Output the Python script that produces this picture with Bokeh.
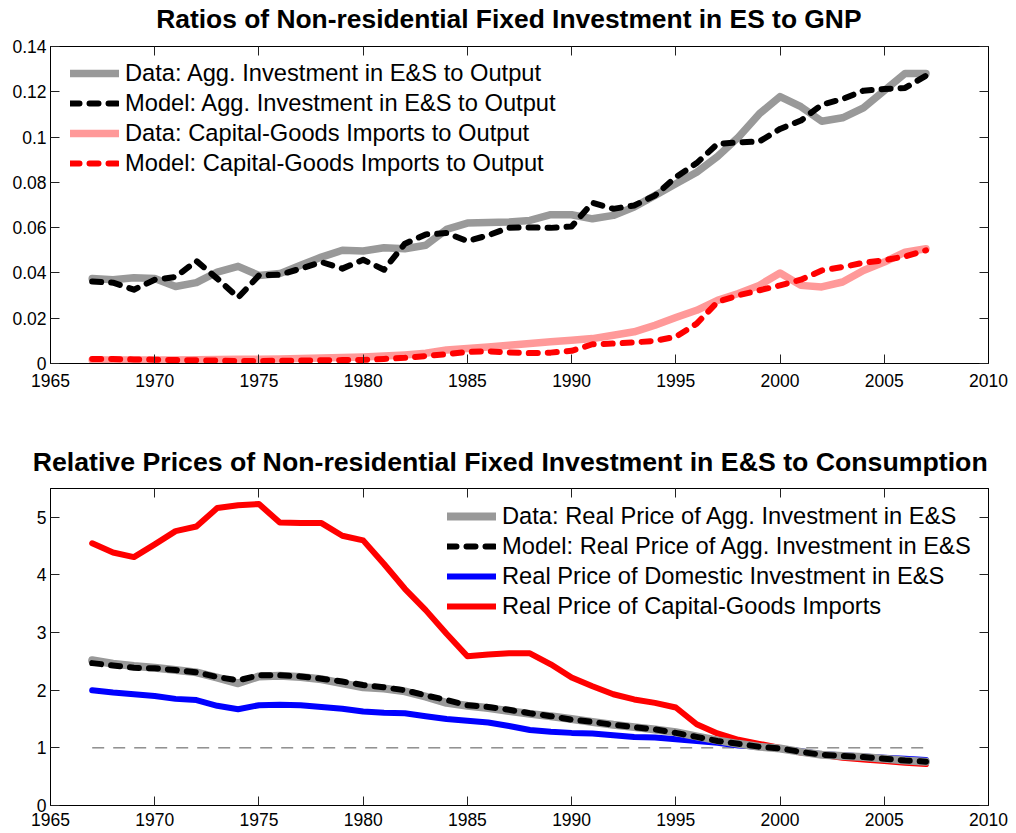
from bokeh.plotting import figure
from bokeh.models import (Range1d, FixedTicker, LinearAxis, Legend, LegendItem,
                          Title, CustomJSTickFormatter)
from bokeh.layouts import column
from bokeh.embed import file_html
from bokeh.resources import INLINE

# ---------------- data ----------------
years = [1967, 1968, 1969, 1970, 1971, 1972, 1973, 1974, 1975, 1976,
         1977, 1978, 1979, 1980, 1981, 1982, 1983, 1984, 1985, 1986,
         1987, 1988, 1989, 1990, 1991, 1992, 1993, 1994, 1995, 1996,
         1997, 1998, 1999, 2000, 2001, 2002, 2003, 2004, 2005, 2006, 2007]

# Top panel: ratios to output
agg_inv_data = [0.0375, 0.0370, 0.0379, 0.0375, 0.0340, 0.0357, 0.0404, 0.0429, 0.0389, 0.0397,
                0.0434, 0.0470, 0.0500, 0.0497, 0.0511, 0.0507, 0.0522, 0.0592, 0.0620, 0.0623,
                0.0625, 0.0632, 0.0657, 0.0657, 0.0639, 0.0654, 0.0691, 0.0742, 0.0794, 0.0845,
                0.0914, 0.0999, 0.1102, 0.1179, 0.1134, 0.1070, 0.1085, 0.1129, 0.1205, 0.1281, 0.1281]
agg_inv_model = [0.0362, 0.0357, 0.0326, 0.0370, 0.0382, 0.0453, 0.0375, 0.0291, 0.0389, 0.0392,
                 0.0419, 0.0448, 0.0419, 0.0458, 0.0414, 0.0529, 0.0570, 0.0576, 0.0541, 0.0566,
                 0.0600, 0.0601, 0.0599, 0.0605, 0.0710, 0.0683, 0.0698, 0.0742, 0.0823, 0.0885,
                 0.0970, 0.0977, 0.0980, 0.1036, 0.1073, 0.1143, 0.1168, 0.1205, 0.1212, 0.1217, 0.1271]
imports_data = [0.0015, 0.0015, 0.0015, 0.0016, 0.0016, 0.0017, 0.0018, 0.0019, 0.0019, 0.0020,
                0.0022, 0.0024, 0.0026, 0.0029, 0.0033, 0.0038, 0.0045, 0.0060, 0.0066, 0.0073,
                0.0081, 0.0088, 0.0096, 0.0103, 0.0110, 0.0125, 0.0140, 0.0169, 0.0203, 0.0235,
                0.0279, 0.0309, 0.0345, 0.0400, 0.0345, 0.0338, 0.0360, 0.0411, 0.0448, 0.0492, 0.0507]
imports_model = [0.0020, 0.0020, 0.0018, 0.0017, 0.0015, 0.0014, 0.0013, 0.0011, 0.0011, 0.0012,
                 0.0013, 0.0014, 0.0015, 0.0016, 0.0020, 0.0025, 0.0033, 0.0041, 0.0051, 0.0054,
                 0.0049, 0.0046, 0.0048, 0.0056, 0.0085, 0.0088, 0.0093, 0.0100, 0.0118, 0.0176,
                 0.0272, 0.0301, 0.0323, 0.0345, 0.0370, 0.0411, 0.0426, 0.0445, 0.0456, 0.0473, 0.0500]

# Bottom panel: relative prices
price_agg_data = [2.52, 2.46, 2.42, 2.39, 2.35, 2.31, 2.22, 2.12, 2.24, 2.25,
                  2.23, 2.19, 2.12, 2.05, 2.03, 1.98, 1.89, 1.78, 1.73, 1.69,
                  1.64, 1.59, 1.55, 1.50, 1.45, 1.40, 1.36, 1.32, 1.27, 1.20,
                  1.13, 1.07, 1.02, 0.99, 0.93, 0.88, 0.86, 0.84, 0.81, 0.78, 0.76]
price_agg_model = [2.47, 2.43, 2.39, 2.38, 2.35, 2.31, 2.23, 2.17, 2.26, 2.26,
                   2.24, 2.20, 2.15, 2.09, 2.05, 2.00, 1.91, 1.83, 1.74, 1.71,
                   1.66, 1.60, 1.55, 1.49, 1.45, 1.40, 1.36, 1.32, 1.26, 1.19,
                   1.12, 1.07, 1.02, 0.99, 0.93, 0.88, 0.86, 0.84, 0.81, 0.78, 0.76]
price_domestic = [2.00, 1.96, 1.93, 1.90, 1.85, 1.83, 1.73, 1.67, 1.74, 1.75,
                  1.74, 1.71, 1.68, 1.63, 1.61, 1.60, 1.55, 1.50, 1.47, 1.44,
                  1.38, 1.31, 1.28, 1.26, 1.25, 1.22, 1.19, 1.18, 1.15, 1.12,
                  1.09, 1.04, 1.02, 0.99, 0.94, 0.89, 0.87, 0.85, 0.83, 0.81, 0.79]
price_imports = [4.55, 4.39, 4.31, 4.53, 4.76, 4.84, 5.16, 5.21, 5.23, 4.91,
                 4.90, 4.90, 4.68, 4.60, 4.19, 3.76, 3.39, 2.98, 2.59, 2.62,
                 2.64, 2.64, 2.45, 2.22, 2.07, 1.93, 1.84, 1.78, 1.70, 1.41,
                 1.25, 1.14, 1.07, 1.00, 0.92, 0.88, 0.83, 0.80, 0.77, 0.74, 0.72]
ref_line_x = [1967, 2007]
ref_line_y = [1, 1]

x_ticks = [1965, 1970, 1975, 1980, 1985, 1990, 1995, 2000, 2005, 2010]
top_y_ticks = [0, 0.02, 0.04, 0.06, 0.08, 0.10, 0.12, 0.14]
bot_y_ticks = [0, 1, 2, 3, 4, 5]

title_top = "Ratios of Non-residential Fixed Investment in ES to GNP"
title_bot = "Relative Prices of Non-residential Fixed Investment in E&S to Consumption"
labels_top = ["Data: Agg. Investment in E&S to Output",
              "Model: Agg. Investment in E&S to Output",
              "Data: Capital-Goods Imports to Output",
              "Model: Capital-Goods Imports to Output"]
labels_bot = ["Data: Real Price of Agg. Investment in E&S",
              "Model: Real Price of Agg. Investment in E&S",
              "Real Price of Domestic Investment in E&S",
              "Real Price of Capital-Goods Imports"]

# ---------------- styling ----------------
FONT = "Liberation Sans"
GRAY = "#999999"
PINK = "#FF9999"
RED = "#FF0000"
BLUE = "#0000FF"
DASH = "9 10"


def style_axis(ax, ticks, labels=True, standoff=10):
    ax.ticker = FixedTicker(ticks=ticks)
    ax.major_tick_in = 9
    ax.major_tick_out = 0
    ax.minor_tick_in = 0
    ax.minor_tick_out = 0
    ax.major_tick_line_color = "#222222"
    ax.axis_line_color = "black"
    ax.major_label_text_font = FONT
    ax.major_label_text_color = "black"
    if labels:
        ax.major_label_text_font_size = "17.5px"
        ax.major_label_standoff = standoff
    else:
        ax.major_label_text_font_size = "0px"
        ax.major_label_standoff = 0
        ax.formatter = CustomJSTickFormatter(code="return ''")


def make_fig(height, y_range, y_ticks, y_fmt, mb_top, mb_bottom, x_standoff):
    p = figure(width=1010, height=height, x_range=Range1d(1965, 2010), y_range=y_range,
               output_backend="svg", toolbar_location=None, title=None,
               min_border_left=50, min_border_right=22,
               min_border_top=mb_top, min_border_bottom=mb_bottom)
    p.grid.visible = False
    p.outline_line_color = "black"
    p.outline_line_width = 1
    p.background_fill_color = "white"
    p.border_fill_color = "white"
    style_axis(p.xaxis[0], x_ticks, standoff=x_standoff)
    style_axis(p.yaxis[0], y_ticks, standoff=4)
    if y_fmt is not None:
        p.yaxis[0].formatter = y_fmt
    top_ax = LinearAxis()
    style_axis(top_ax, x_ticks, labels=False)
    p.add_layout(top_ax, "above")
    right_ax = LinearAxis()
    style_axis(right_ax, y_ticks, labels=False)
    p.add_layout(right_ax, "right")
    return p


def add_title(p, text, offset, size, gap):
    # blank spacer between the frame and the title, then the title itself
    spacer = Title(text=" ", text_font_size="1px", standoff=gap)
    p.add_layout(spacer, "above")
    t = Title(text=text, align="left", offset=offset, text_font=FONT,
              text_font_size=size, text_font_style="bold", text_color="black",
              vertical_align="bottom", standoff=2)
    p.add_layout(t, "above")


def add_legend(p, items, loc):
    lg = Legend(items=items, location=loc, glyph_width=49, glyph_height=30,
                label_height=30, label_standoff=6, spacing=0, padding=0, margin=0,
                border_line_alpha=0, background_fill_alpha=0,
                label_text_font=FONT, label_text_font_size="23.7px",
                label_text_color="black")
    p.add_layout(lg)


# ---------------- top figure ----------------
fmt_top = CustomJSTickFormatter(code="return tick == 0 ? '0' : String(Math.round(tick * 100) / 100)")
p1 = make_fig(400, Range1d(0, 0.14), top_y_ticks, fmt_top, 46, 37, 10)
add_title(p1, title_top, 105.7, "26.4px", 8.7)

r1 = p1.line(years, agg_inv_data, line_color=GRAY, line_width=7.5, line_cap="round", line_join="round")
r2 = p1.line(years, agg_inv_model, line_color="black", line_width=6, line_dash=DASH,
             line_cap="round", line_join="round")
r3 = p1.line(years, imports_data, line_color=PINK, line_width=7.5, line_cap="round", line_join="round")
r4 = p1.line(years, imports_model, line_color=RED, line_width=6, line_dash=DASH,
             line_cap="round", line_join="round")
add_legend(p1, [LegendItem(label=labels_top[0], renderers=[r1]),
                LegendItem(label=labels_top[1], renderers=[r2]),
                LegendItem(label=labels_top[2], renderers=[r3]),
                LegendItem(label=labels_top[3], renderers=[r4])], (20, 185))

# ---------------- bottom figure ----------------
p2 = make_fig(432, Range1d(0, 5.5), bot_y_ticks, None, 88, 27, 7)
add_title(p2, title_bot, -17.8, "26.7px", 7.4)

p2.line(ref_line_x, ref_line_y, line_color="#555555", line_width=1, line_dash="12 9")
s3 = p2.line(years, price_domestic, line_color=BLUE, line_width=6, line_cap="round", line_join="round")
s4 = p2.line(years, price_imports, line_color=RED, line_width=6, line_cap="round", line_join="round")
s1 = p2.line(years, price_agg_data, line_color=GRAY, line_width=8, line_cap="round", line_join="round")
s2 = p2.line(years, price_agg_model, line_color="black", line_width=6, line_dash=DASH,
             line_cap="round", line_join="round")
add_legend(p2, [LegendItem(label=labels_bot[0], renderers=[s1]),
                LegendItem(label=labels_bot[1], renderers=[s2]),
                LegendItem(label=labels_bot[2], renderers=[s3]),
                LegendItem(label=labels_bot[3], renderers=[s4])], (397, 184))

layout = column(p1, p2, spacing=0)
open("out.html", "w").write(file_html(layout, INLINE))
